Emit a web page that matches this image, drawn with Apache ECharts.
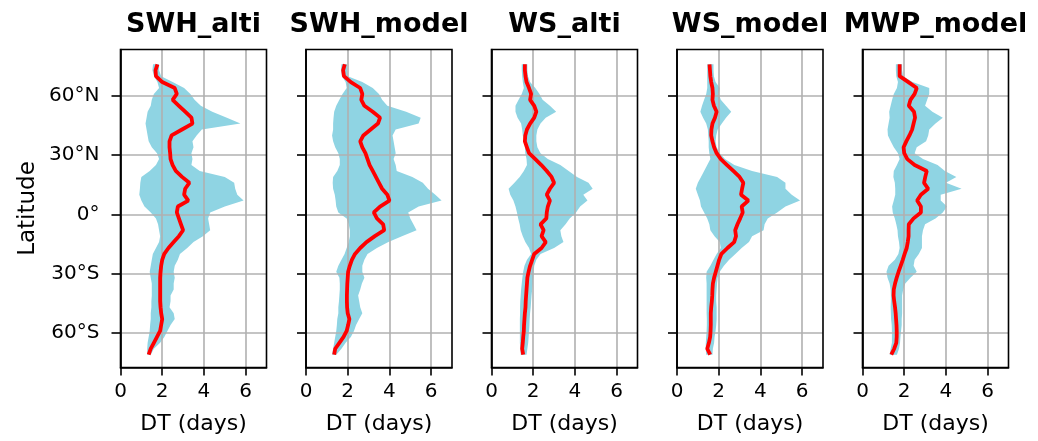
<!DOCTYPE html>
<html>
<head>
<meta charset="utf-8">
<title>DT vs latitude</title>
<script src="https://cdn.jsdelivr.net/npm/echarts@6/dist/echarts.min.js"></script>
<style>
html, body { margin: 0; padding: 0; background: #fff; }
#chart { width: 1038px; height: 441px; }
</style>
</head>
<body>
<div id="chart"></div>
<script>
// latitudes of the profiles (deg, north positive)
const lats = [76, 73, 70, 67, 64, 61, 58, 55, 52, 49, 46, 43, 40, 37, 34, 31, 28, 25, 22, 19,
  16, 13, 10, 7, 4, 1, -2, -5, -8, -11, -14, -17, -20, -23, -26, -29, -32, -35, -38, -41,
  -44, -47, -50, -53, -56, -59, -62, -65, -68, -71];

const panelNames = ['SWH_alti', 'SWH_model', 'WS_alti', 'WS_model', 'MWP_model'];
const xTicks = [0, 2, 4, 6];
const yTicks = [-60, -30, 0, 30, 60];
const yTickLabels = ['60°S', '30°S', '0°', '30°N', '60°N'];

// SWH_alti
const swhAltiMean = [1.77, 1.68, 1.70, 2.0, 2.6, 2.7, 2.5, 2.8, 3.1, 3.4, 3.45, 2.95, 2.45, 2.35, 2.35, 2.38, 2.4, 2.5, 2.65, 2.95,
  3.3, 3.1, 3.05, 3.25, 2.75, 2.7, 2.8, 2.9, 3.0, 2.8, 2.55, 2.3, 2.1, 2.0, 1.95, 1.92, 1.9, 1.9, 1.9, 1.9,
  1.9, 1.92, 1.95, 2.0, 1.95, 1.9, 1.75, 1.6, 1.45, 1.35];
const swhAltiLo = [1.56, 1.53, 1.61, 1.77, 1.85, 1.6, 1.5, 1.45, 1.3, 1.25, 1.2, 1.25, 1.3, 1.35, 1.5, 1.75, 1.85, 1.7, 1.4, 1.0,
  0.95, 0.93, 0.9, 1.0, 1.15, 1.45, 1.7, 1.8, 1.85, 1.9, 1.85, 1.7, 1.55, 1.5, 1.45, 1.4, 1.45, 1.5, 1.5, 1.5,
  1.48, 1.48, 1.45, 1.45, 1.42, 1.4, 1.35, 1.3, 1.28, 1.28];
const swhAltiHi = [1.85, 1.85, 1.95, 2.5, 3.05, 3.35, 3.55, 3.85, 4.4, 5.1, 5.75, 3.9, 3.65, 3.45, 3.5, 3.4, 3.45, 3.4, 3.8, 5.0,
  5.45, 5.5, 5.6, 5.9, 5.0, 4.3, 4.2, 4.25, 4.3, 3.95, 3.5, 3.2, 2.85, 2.75, 2.6, 2.55, 2.6, 2.55, 2.55, 2.4,
  2.4, 2.35, 2.55, 2.6, 2.4, 2.25, 2.1, 1.9, 1.6, 1.45];

// SWH_model
const swhModelMean = [1.86, 1.78, 1.82, 2.15, 2.6, 2.7, 2.65, 2.8, 3.2, 3.55, 3.45, 3.1, 2.75, 2.6, 2.7, 2.85, 2.95, 3.05, 3.2, 3.35,
  3.5, 3.65, 3.9, 4.0, 3.55, 3.25, 3.4, 3.7, 3.75, 3.3, 2.9, 2.6, 2.35, 2.2, 2.1, 2.02, 2.0, 1.98, 1.97, 1.96,
  1.96, 1.97, 2.0, 2.08, 2.02, 1.95, 1.8, 1.6, 1.4, 1.35];
const swhModelLo = [1.7, 1.68, 1.72, 1.9, 1.95, 1.75, 1.6, 1.45, 1.35, 1.32, 1.3, 1.3, 1.25, 1.3, 1.4, 1.55, 1.62, 1.62, 1.5, 1.3,
  1.28, 1.3, 1.38, 1.42, 1.45, 1.55, 1.95, 2.05, 2.1, 2.1, 2.05, 1.95, 1.85, 1.7, 1.55, 1.45, 1.6, 1.62, 1.62, 1.6,
  1.58, 1.55, 1.55, 1.5, 1.48, 1.45, 1.4, 1.35, 1.3, 1.25];
const swhModelHi = [1.97, 1.97, 2.0, 2.7, 3.2, 3.5, 3.65, 3.9, 4.8, 5.5, 5.4, 4.3, 4.15, 4.2, 4.25, 4.3, 4.2, 4.3, 4.35, 5.1,
  5.6, 5.85, 6.2, 6.5, 5.4, 4.9, 5.0, 5.15, 5.3, 4.6, 3.95, 3.4, 2.95, 2.8, 2.7, 2.7, 2.8, 2.68, 2.6, 2.5,
  2.55, 2.6, 2.7, 2.55, 2.4, 2.3, 2.15, 1.9, 1.7, 1.45];

// WS_alti
const wsAltiMean = [1.6, 1.6, 1.63, 1.68, 1.8, 1.9, 1.85, 2.05, 2.15, 2.05, 1.85, 1.7, 1.62, 1.6, 1.7, 1.8, 2.1, 2.39, 2.65, 2.88,
  3.0, 2.8, 2.65, 2.8, 2.7, 2.65, 2.63, 2.35, 2.5, 2.4, 2.6, 2.4, 2.05, 1.95, 1.85, 1.78, 1.72, 1.7, 1.68, 1.66,
  1.64, 1.63, 1.6, 1.58, 1.56, 1.55, 1.52, 1.5, 1.47, 1.52];
const wsAltiLo = [1.45, 1.45, 1.47, 1.5, 1.55, 1.45, 1.3, 1.15, 1.15, 1.25, 1.42, 1.47, 1.5, 1.58, 1.6, 1.62, 1.68, 1.7, 1.55, 1.35,
  1.1, 0.82, 0.9, 1.05, 1.15, 1.22, 1.28, 1.35, 1.4, 1.5, 1.62, 1.8, 1.9, 1.7, 1.58, 1.52, 1.48, 1.45, 1.42, 1.4,
  1.38, 1.37, 1.37, 1.36, 1.36, 1.36, 1.36, 1.36, 1.38, 1.4];
const wsAltiHi = [1.72, 1.72, 1.75, 1.85, 2.1, 2.3, 2.45, 2.8, 3.1, 2.6, 2.35, 2.2, 2.15, 2.15, 2.2, 2.35, 2.7, 3.3, 3.7, 4.1,
  4.65, 4.85, 4.4, 4.6, 4.25, 4.05, 3.75, 3.55, 3.3, 3.35, 3.45, 3.0, 2.35, 2.15, 2.05, 2.02, 2.0, 1.98, 1.95, 1.92,
  1.9, 1.88, 1.85, 1.83, 1.82, 1.8, 1.78, 1.76, 1.72, 1.68];

// WS_model
const wsModelMean = [1.56, 1.58, 1.6, 1.64, 1.7, 1.72, 1.7, 1.77, 1.9, 1.82, 1.7, 1.65, 1.64, 1.7, 1.78, 1.9, 2.1, 2.4, 2.7, 3.0,
  3.18, 3.12, 3.07, 3.42, 3.1, 3.15, 3.03, 2.9, 2.79, 2.83, 2.74, 2.42, 2.13, 2.02, 1.94, 1.86, 1.78, 1.72, 1.7, 1.69,
  1.67, 1.64, 1.62, 1.62, 1.62, 1.61, 1.59, 1.53, 1.45, 1.59];
const wsModelLo = [1.45, 1.45, 1.45, 1.45, 1.45, 1.4, 1.3, 1.2, 1.12, 1.25, 1.4, 1.48, 1.5, 1.52, 1.52, 1.55, 1.6, 1.45, 1.3, 1.15,
  1.0, 0.9, 1.0, 1.1, 1.15, 1.3, 1.45, 1.55, 1.6, 1.8, 2.05, 2.1, 1.9, 1.75, 1.6, 1.42, 1.4, 1.42, 1.42, 1.42,
  1.42, 1.42, 1.42, 1.43, 1.43, 1.42, 1.4, 1.38, 1.38, 1.4];
const wsModelHi = [1.75, 1.75, 1.77, 1.85, 2.05, 2.0, 2.1, 2.35, 2.6, 2.35, 2.15, 1.95, 1.88, 1.85, 1.9, 2.05, 2.3, 2.75, 3.6, 4.8,
  5.2, 5.2, 5.5, 5.9, 5.2, 4.8, 4.35, 4.2, 4.15, 3.6, 3.45, 3.1, 2.8, 2.5, 2.25, 2.05, 1.95, 1.92, 1.9, 1.88,
  1.88, 1.9, 1.9, 1.9, 1.88, 1.85, 1.8, 1.78, 1.72, 1.7];

// MWP_model
const mwpModelMean = [1.78, 1.78, 1.78, 2.2, 2.6, 2.5, 2.3, 2.22, 2.47, 2.52, 2.45, 2.38, 2.25, 2.1, 1.97, 2.0, 2.15, 2.5, 3.08, 3.01,
  2.95, 3.15, 2.8, 2.62, 2.8, 2.8, 2.45, 2.22, 2.21, 2.21, 2.17, 2.12, 2.02, 1.93, 1.83, 1.73, 1.64, 1.56, 1.5, 1.49,
  1.52, 1.56, 1.59, 1.61, 1.63, 1.64, 1.64, 1.62, 1.52, 1.38];
const mwpModelLo = [1.6, 1.6, 1.62, 1.7, 1.65, 1.5, 1.42, 1.35, 1.28, 1.3, 1.25, 1.2, 1.22, 1.35, 1.5, 1.7, 1.78, 1.65, 1.5, 1.48,
  1.55, 1.57, 1.57, 1.5, 1.42, 1.45, 1.55, 1.62, 1.68, 1.7, 1.75, 1.78, 1.72, 1.55, 1.25, 1.15, 1.2, 1.3, 1.35, 1.36,
  1.36, 1.35, 1.36, 1.37, 1.4, 1.41, 1.41, 1.41, 1.35, 1.3];
const mwpModelHi = [1.9, 1.9, 1.95, 2.4, 3.2, 3.2, 3.1, 3.0, 3.35, 3.85, 3.5, 3.2, 3.15, 3.05, 2.6, 2.5, 2.9, 3.6, 3.95, 4.5,
  4.0, 4.75, 3.75, 3.75, 4.05, 3.85, 3.5, 3.0, 2.9, 2.85, 2.85, 2.85, 2.7, 2.5, 2.45, 2.6, 2.3, 2.05, 1.95, 1.9,
  1.9, 1.9, 1.9, 1.88, 1.88, 1.85, 1.82, 1.8, 1.75, 1.65];

const panels = [
  { mean: swhAltiMean, lo: swhAltiLo, hi: swhAltiHi },
  { mean: swhModelMean, lo: swhModelLo, hi: swhModelHi },
  { mean: wsAltiMean, lo: wsAltiLo, hi: wsAltiHi },
  { mean: wsModelMean, lo: wsModelLo, hi: wsModelHi },
  { mean: mwpModelMean, lo: mwpModelLo, hi: mwpModelHi }
];

const font = 'DejaVu Sans';
const bandColor = '#8fd4e3';
const gridColor = '#b0b0b0';

// layout of the five panels (px)
const gridLeft0 = 120.5, gridStep = 185.5, gridW = 146, gridTop = 49.5, gridH = 318;

var myChart = echarts.init(document.getElementById('chart'));

const grids = [], xAxes = [], yAxes = [], titles = [], series = [];

panels.forEach(function (p, i) {
    const left = gridLeft0 + i * gridStep;

    grids.push({
        left: left, top: gridTop, width: gridW, height: gridH,
        show: true, borderColor: '#000', borderWidth: 1.6,
        backgroundColor: 'transparent', z: 10
    });

    titles.push({
        text: panelNames[i],
        left: left + gridW / 2, top: 11, textAlign: 'center', padding: 0,
        textStyle: { fontFamily: font, fontWeight: 'bold', fontSize: 27, color: '#000' }
    });

    xAxes.push({
        gridIndex: i, type: 'value', min: 0, max: 7, interval: 2,
        name: 'DT (days)', nameLocation: 'middle', nameGap: 46,
        nameTextStyle: { fontFamily: font, fontSize: 22, color: '#000' },
        axisLine: { show: true, onZero: false, lineStyle: { color: '#000', width: 1.6 } },
        axisTick: { show: true, length: 8, customValues: xTicks, lineStyle: { color: '#000', width: 1.6 } },
        axisLabel: { customValues: xTicks, fontFamily: font, fontSize: 20, color: '#000', margin: 14 },
        splitLine: { show: true, lineStyle: { color: gridColor, width: 1.6 } }
    });

    yAxes.push({
        gridIndex: i, type: 'value', min: -77.5, max: 83.5,
        name: i === 0 ? 'Latitude' : '', nameLocation: 'middle', nameGap: 81, nameRotate: 90,
        nameTextStyle: { fontFamily: font, fontSize: 23, color: '#000' },
        axisLine: { show: true, onZero: false, lineStyle: { color: '#000', width: 1.6 } },
        axisTick: { show: true, length: 9, customValues: yTicks, lineStyle: { color: '#000', width: 1.6 } },
        axisLabel: {
            show: i === 0, customValues: yTicks, fontFamily: font, fontSize: 20, color: '#000', margin: 21,
            formatter: function (v) { return yTickLabels[yTicks.indexOf(v)]; }
        },
        splitLine: { show: true, lineStyle: { color: gridColor, width: 1.6 } }
    });

    // spread band: one polygon, hi edge going south then lo edge going north
    series.push({
        type: 'custom', xAxisIndex: i, yAxisIndex: i, z: -1, silent: true,
        data: lats.map(function (lat, k) { return [p.lo[k], p.hi[k], lat]; }),
        encode: { x: [0, 1], y: 2 },
        renderItem: function (params, api) {
            if (params.dataIndex !== 0) return null;
            const pts = [];
            for (let k = 0; k < lats.length; k++) pts.push(api.coord([p.hi[k], lats[k]]));
            for (let k = lats.length - 1; k >= 0; k--) pts.push(api.coord([p.lo[k], lats[k]]));
            return { type: 'polygon', shape: { points: pts }, style: { fill: bandColor } };
        }
    });

    // mean profile
    series.push({
        type: 'line', xAxisIndex: i, yAxisIndex: i, z: 3, silent: true,
        data: lats.map(function (lat, k) { return [p.mean[k], lat]; }),
        showSymbol: false, symbol: 'none',
        lineStyle: { color: '#ff0000', width: 3.8 }
    });
});

myChart.setOption({
    animation: false,
    backgroundColor: '#fff',
    title: titles,
    grid: grids,
    xAxis: xAxes,
    yAxis: yAxes,
    series: series
});
</script>
</body>
</html>
